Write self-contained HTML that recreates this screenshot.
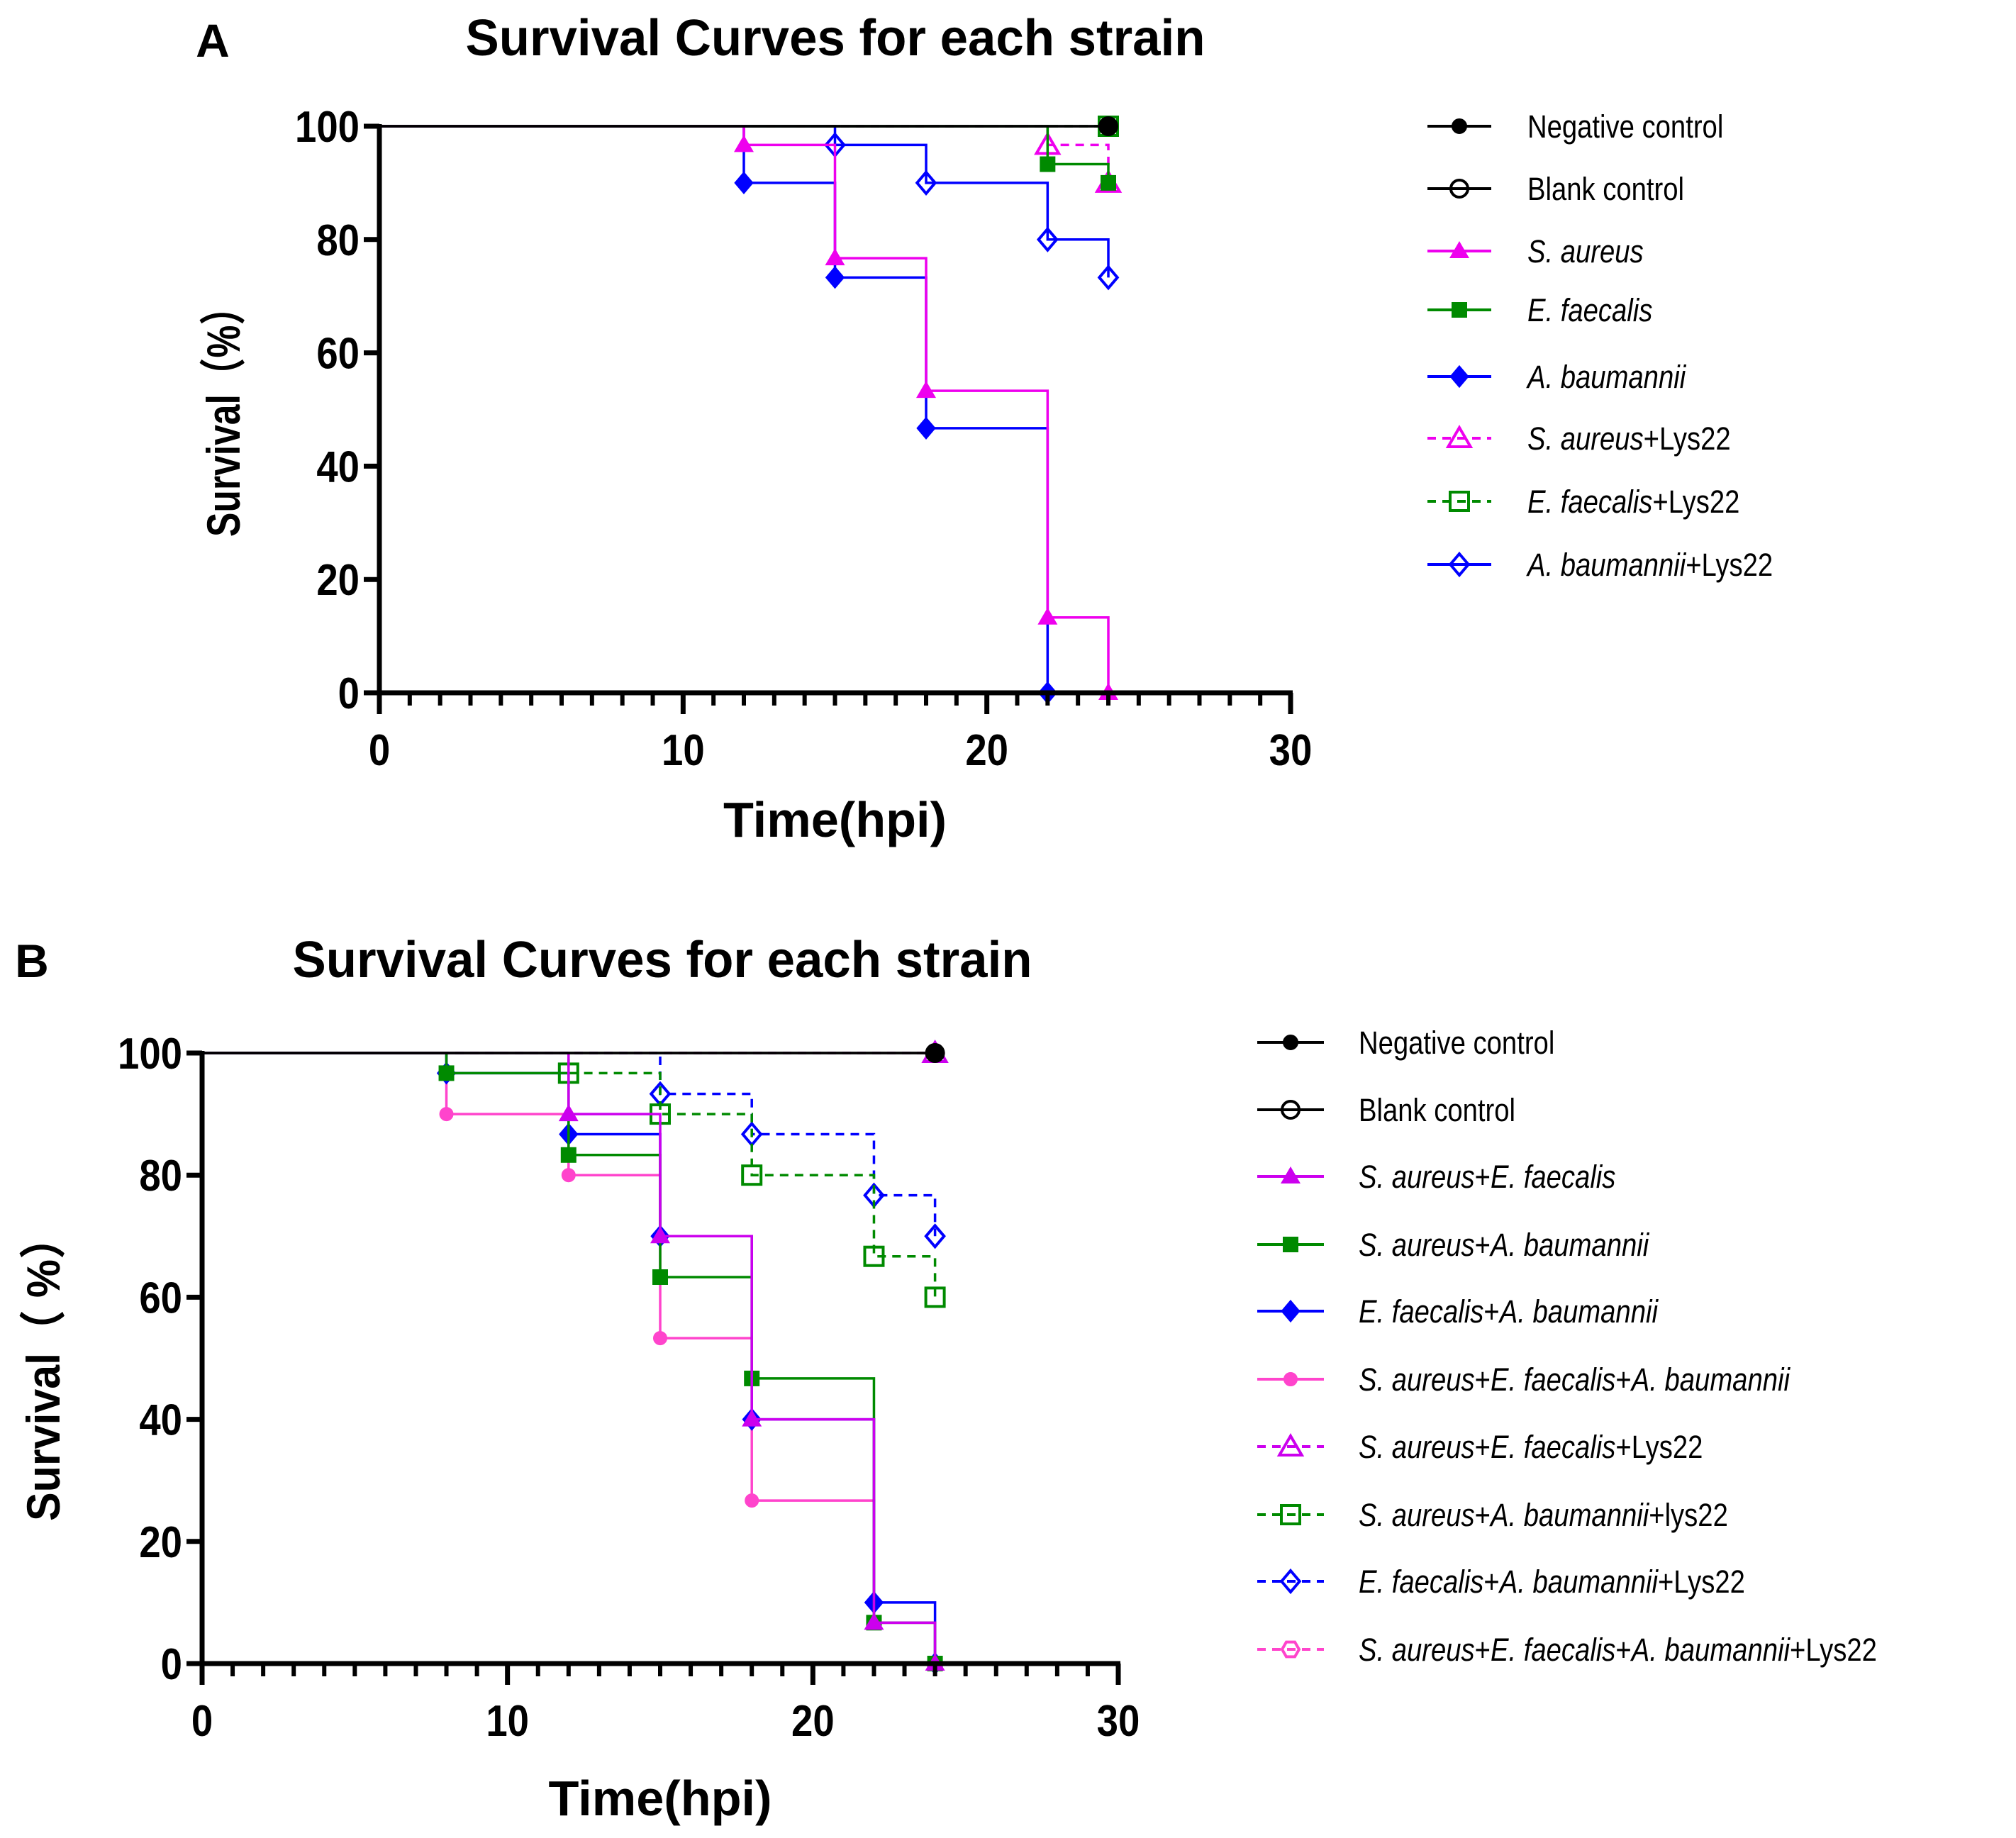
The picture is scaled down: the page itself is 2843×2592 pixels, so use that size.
<!DOCTYPE html>
<html><head><meta charset="utf-8"><style>
html,body{margin:0;padding:0;background:#fff;}
svg{display:block;font-family:"Liberation Sans",Arial,sans-serif;}
</style></head><body>
<svg id="chart" width="2843" height="2592" viewBox="0 0 2843 2592" xmlns="http://www.w3.org/2000/svg">
<text x="300" y="80" font-size="66" font-weight="bold" text-anchor="middle">A</text>
<text x="1178" y="78" font-size="72" font-weight="bold" text-anchor="middle" textLength="1043" lengthAdjust="spacingAndGlyphs">Survival Curves for each strain</text>
<text x="45" y="1378" font-size="66" font-weight="bold" text-anchor="middle">B</text>
<text x="934" y="1378" font-size="72" font-weight="bold" text-anchor="middle" textLength="1043" lengthAdjust="spacingAndGlyphs">Survival Curves for each strain</text>
<g id="pa"></g>
<g id="pb"></g>
</svg>
<script>
// Panel A data
const aNames = ["Negative control","Blank control","S. aureus","E. faecalis","A. baumannii","S. aureus+Lys22","E. faecalis+Lys22","A. baumannii+Lys22"];
const aTimes = [[24],[24],[12,15,18,22,24],[22,24],[12,15,18,22],[22,24],[24],[15,18,22,24]];
const aSurv  = [[100],[100],[96.7,76.7,53.3,13.3,0],[93.3,90],[90,73.3,46.7,0],[96.7,90],[100],[96.7,90,80,73.3]];
// Panel B data
const bNames = ["Negative control","Blank control","S. aureus+E. faecalis","S. aureus+A. baumannii","E. faecalis+A. baumannii","S. aureus+E. faecalis+A. baumannii","S. aureus+E. faecalis+Lys22","S. aureus+A. baumannii+lys22","E. faecalis+A. baumannii+Lys22","S. aureus+E. faecalis+A. baumannii+Lys22"];
const bTimes = [[24],[24],[12,15,18,22,24],[8,12,15,18,22,24],[8,12,15,18,22,24],[8,12,15,18,22,24],[24],[12,15,18,22,24],[15,18,22,24],[24]];
const bSurv  = [[100],[100],[90,70,40,6.7,0],[96.7,83.3,63.3,46.7,6.7,0],[96.7,86.7,70,40,10,0],[90,80,53.3,26.7,6.7,0],[100],[96.7,90,80,66.7,60],[93.3,86.7,76.7,70],[100]];
const xTicks = [0,10,20,30];
const yTicks = [0,20,40,60,80,100];

const NS="http://www.w3.org/2000/svg";
function mk(p,tag,at){const e=document.createElementNS(NS,tag);for(const k in at)e.setAttribute(k,at[k]);p.appendChild(e);return e;}

const aStyle=[
 {c:"#000",m:"circle",f:true,d:false},{c:"#000",m:"circle",f:false,d:false},
 {c:"#ee00ee",m:"tri",f:true,d:false},{c:"#008a00",m:"sq",f:true,d:false},
 {c:"#0000ff",m:"dia",f:true,d:false},{c:"#ee00ee",m:"tri",f:false,d:true},
 {c:"#008a00",m:"sq",f:false,d:true},{c:"#0000ff",m:"dia",f:false,d:false}];
const bStyle=[
 {c:"#000",m:"circle",f:true,d:false},{c:"#000",m:"circle",f:false,d:false},
 {c:"#cc00ee",m:"tri",f:true,d:false},{c:"#008a00",m:"sq",f:true,d:false},
 {c:"#0000ff",m:"dia",f:true,d:false},{c:"#ff44cc",m:"circle",f:true,d:false,small:true},
 {c:"#cc00ee",m:"tri",f:false,d:true},{c:"#008a00",m:"sq",f:false,d:true},
 {c:"#0000ff",m:"dia",f:false,d:true},{c:"#ff44cc",m:"hex",f:false,d:true}];

function marker(g,st,x,y){
  const fill=st.f?st.c:"none"; const sw=4;
  let e;
  if(st.m==="circle"){const r=st.f?(st.small?8:9):12;e=mk(g,"circle",{cx:x,cy:y,r:r,fill:fill,stroke:st.c,"stroke-width":sw});}
  else if(st.m==="sq"){const h=st.f?9:13;e=mk(g,"rect",{x:x-h,y:y-h,width:2*h,height:2*h,fill:fill,stroke:st.c,"stroke-width":sw});}
  else if(st.m==="tri"){const h=st.f?10:15;e=mk(g,"polygon",{points:`${x},${y-h} ${x+h*1.05},${y+h*0.8} ${x-h*1.05},${y+h*0.8}`,fill:fill,stroke:st.c,"stroke-width":sw});}
  else if(st.m==="dia"){const h=st.f?13:15;e=mk(g,"polygon",{points:`${x},${y-h} ${x+h*0.85},${y} ${x},${y+h} ${x-h*0.85},${y}`,fill:fill,stroke:st.c,"stroke-width":sw});}
  else {const h=12;let p=[];for(let i=0;i<6;i++){const a=Math.PI/3*i;p.push((x+h*Math.cos(a))+","+(y+h*Math.sin(a)));}e=mk(g,"polygon",{points:p.join(" "),fill:"none",stroke:st.c,"stroke-width":sw});}
  
  
}

function legendText(t,x,y,g,plain){
  const tx=mk(g,"text",{x:0,y:0,"font-size":45,transform:`translate(${x},${y+16}) scale(0.85,1)`});
  
  
  if(plain){tx.textContent=t;return;}
  const parts=t.split(/(\+)/);
  parts.forEach(p=>{const ts=mk(tx,"tspan",{});ts.textContent=p;if(p!=="+"&&!/^[Ll]ys22$/.test(p))ts.setAttribute("font-style","italic");});
}

function panel(gid,cfg){
  const g=document.getElementById(gid);
  const X=v=>cfg.x0+(cfg.x1-cfg.x0)*v/30;
  const Y=v=>cfg.y0+(cfg.y100-cfg.y0)*v/100;
  // series drawn last-to-first so controls sit on top
  for(let i=cfg.names.length-1;i>=0;i--){
    const st=cfg.style[i], ts=cfg.times[i], ss=cfg.surv[i];
    let d=`M${X(0)},${Y(100)}`;
    ts.forEach((t,j)=>{d+=` H${X(t)} V${Y(ss[j])}`;});
    const p=mk(g,"path",{d:d,fill:"none",stroke:st.c,"stroke-width":3.5,"stroke-dasharray":st.d?"12,9":"none"});
    
    
    ts.forEach((t,j)=>marker(g,st,X(t),Y(ss[j])));
  }
  const ax=mk(g,"path",{d:`M${X(0)},${Y(100)-3} V${Y(0)} H${X(30)+3}`,fill:"none",stroke:"#000","stroke-width":7});
  
  
  for(let v=0;v<=30;v++){
    const major=xTicks.includes(v);
    const t=mk(g,"line",{x1:X(v),x2:X(v),y1:Y(0),y2:Y(0)+(major?30:18),stroke:"#000","stroke-width":major?7:6});
    
    
  }
  xTicks.forEach(v=>{const t=mk(g,"text",{x:0,y:0,"font-size":62,"font-weight":"bold","text-anchor":"middle",transform:`translate(${X(v)},${Y(0)+102}) scale(0.88,1)`});t.textContent=v;
    
    });
  yTicks.forEach(v=>{
    const l=mk(g,"line",{x1:X(0)-22,x2:X(0),y1:Y(v),y2:Y(v),stroke:"#000","stroke-width":7});
    
    
    const t=mk(g,"text",{x:0,y:0,"font-size":62,"font-weight":"bold","text-anchor":"end",transform:`translate(${X(0)-28},${Y(v)+22}) scale(0.88,1)`});t.textContent=v;
    
    
  });
  const xt=mk(g,"text",{x:(X(0)+X(30))/2,y:cfg.xtY,"font-size":70,"font-weight":"bold","text-anchor":"middle",textLength:315,lengthAdjust:"spacingAndGlyphs"});
  xt.textContent="Time(hpi)";
  
  
  const yt=mk(g,"text",{x:0,y:0,"font-size":66,"font-weight":"bold","text-anchor":"middle",textLength:cfg.ytLen,lengthAdjust:"spacingAndGlyphs",transform:`translate(${cfg.ytX},${cfg.ytY}) rotate(-90)`});
  yt.setAttribute("font-family",'"Liberation Sans","Noto Sans CJK SC",sans-serif');
  yt.textContent=cfg.ytext;
  
  
  cfg.names.forEach((n,i)=>{
    const st=cfg.style[i], y=cfg.legY[i];
    const l=mk(g,"line",{x1:cfg.lx0,x2:cfg.lx1,y1:y,y2:y,stroke:st.c,"stroke-width":4,"stroke-dasharray":st.d?"12,9":"none"});
    
    
    marker(g,st,(cfg.lx0+cfg.lx1)/2,y);
    legendText(n,cfg.tx,y,g,i<2);
  });
}

panel("pa",{x0:535,x1:1820,y0:977,y100:178,names:aNames,times:aTimes,surv:aSurv,style:aStyle,
  xtY:1180,ytX:338,ytY:582,ytLen:350,ytext:"Survival（%）",lx0:2013,lx1:2103,tx:2154,
  legY:[178,266,354,437,531,618,707,796]});
panel("pb",{x0:285,x1:1577,y0:2346,y100:1485,names:bNames,times:bTimes,surv:bSurv,style:bStyle,
  xtY:2560,ytX:84,ytY:1930,ytLen:430,ytext:"Survival（ %）",lx0:1773,lx1:1867,tx:1916,
  legY:[1470,1565,1659,1755,1849,1945,2040,2136,2230,2326]});
</script>
</body></html>
